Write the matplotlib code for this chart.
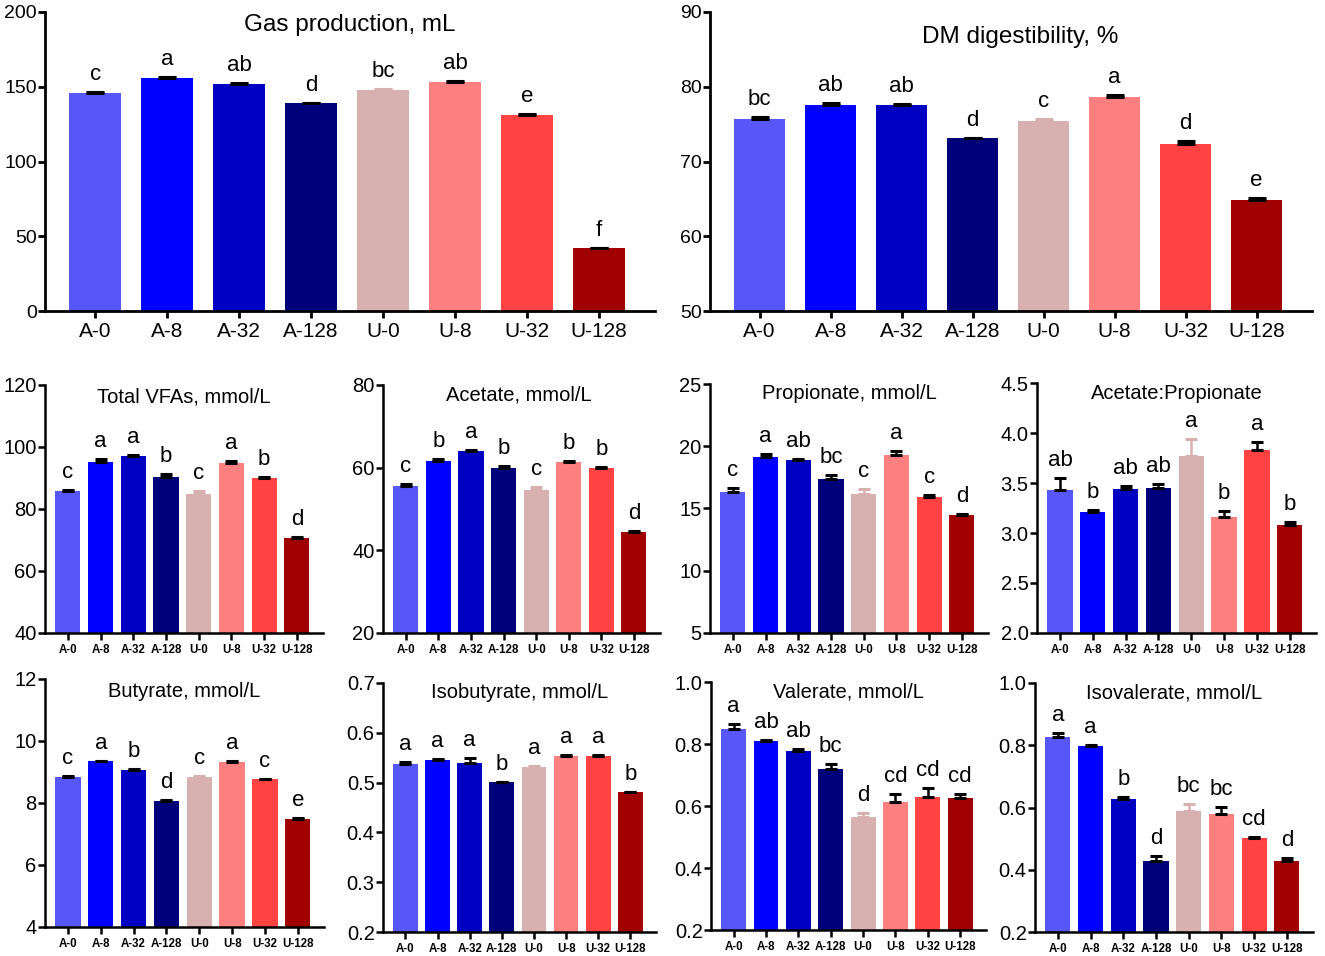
import matplotlib
matplotlib.use("Agg")
import matplotlib.pyplot as plt
import numpy as np

plt.rcParams['font.family'] = ['Liberation Sans', 'DejaVu Sans']

categories = ["A-0", "A-8", "A-32", "A-128", "U-0", "U-8", "U-32", "U-128"]
colors = ["#5757F7", "#0000FF", "#0000C2", "#00007A", "#D9B0B0", "#FF8080", "#FF4242", "#A00000"]

gas = [146, 156, 152, 139, 148, 153, 131, 42]
gas_err = [0.8, 0.7, 0.5, 0.4, 0.3, 0.6, 0.5, 0.4]
gas_let = ["c", "a", "ab", "d", "bc", "ab", "e", "f"]

dm = [75.7, 77.5, 77.6, 73.1, 75.4, 78.6, 72.3, 64.9]
dm_err = [0.2, 0.3, 0.15, 0.1, 0.3, 0.3, 0.4, 0.2]
dm_let = ["bc", "ab", "ab", "d", "c", "a", "d", "e"]

tvfa = [85.8, 95.3, 97.1, 90.4, 84.8, 95.0, 90.0, 70.6]
tvfa_err = [0.4, 0.7, 0.2, 0.8, 1.0, 0.5, 0.2, 0.3]
tvfa_let = ["c", "a", "a", "b", "c", "a", "b", "d"]

acet = [55.5, 61.6, 64.0, 59.8, 54.6, 61.4, 59.9, 44.4]
acet_err = [0.5, 0.5, 0.2, 0.7, 0.8, 0.3, 0.3, 0.2]
acet_let = ["c", "b", "a", "b", "c", "b", "b", "d"]

prop = [16.3, 19.1, 18.9, 17.4, 16.2, 19.3, 15.9, 14.5]
prop_err = [0.35, 0.3, 0.05, 0.3, 0.35, 0.3, 0.2, 0.05]
prop_let = ["c", "a", "ab", "bc", "c", "a", "c", "d"]

ap = [3.43, 3.21, 3.44, 3.45, 3.77, 3.16, 3.83, 3.08]
ap_err = [0.12, 0.02, 0.03, 0.04, 0.17, 0.06, 0.08, 0.03]
ap_let = ["ab", "b", "ab", "ab", "a", "b", "a", "b"]

buty = [8.85, 9.35, 9.07, 8.07, 8.85, 9.33, 8.77, 7.50]
buty_err = [0.03, 0.02, 0.03, 0.02, 0.01, 0.03, 0.02, 0.02]
buty_let = ["c", "a", "b", "d", "c", "a", "c", "e"]

isob = [0.537, 0.546, 0.539, 0.501, 0.532, 0.553, 0.553, 0.481]
isob_err = [0.004, 0.002, 0.010, 0.001, 0.001, 0.002, 0.002, 0.001]
isob_let = ["a", "a", "a", "b", "a", "a", "a", "b"]

vale = [0.848, 0.809, 0.779, 0.720, 0.566, 0.613, 0.629, 0.625]
vale_err = [0.018, 0.005, 0.006, 0.017, 0.010, 0.027, 0.028, 0.013]
vale_let = ["a", "ab", "ab", "bc", "d", "cd", "cd", "cd"]

isov = [0.828, 0.799, 0.627, 0.427, 0.588, 0.578, 0.503, 0.427]
isov_err = [0.010, 0.002, 0.008, 0.018, 0.022, 0.025, 0.001, 0.011]
isov_let = ["a", "a", "b", "d", "bc", "bc", "cd", "d"]

W, H = 1325, 956
fig = plt.figure(figsize=(W / 100, H / 100), dpi=100)


def make_ax(x0, x1, y0, y1):
    return fig.add_axes([x0 / W, 1 - y1 / H, (x1 - x0) / W, (y1 - y0) / H])


def panel(box, vals, errs, lets, title, ylim, yticks, big, tpos, fmt=None):
    ax = make_ax(*box)
    x = np.arange(len(categories))
    if big:
        width, cap, tfs, xfs, yfs, lfs, lw = 0.72, 6.5, 17.5, 15, 14, 16, 2.0
        xlim = (-0.70, 7.78)
    else:
        width, cap, tfs, xfs, yfs, lfs, lw = 0.77, 4.5, 14.5, 8.3, 14.5, 16, 1.8
        xlim = (-0.70, 7.80)
    ax.bar(x, vals, width=width, color=colors, zorder=2)
    for i in range(len(x)):
        ecol = colors[i] if i == 4 else "black"
        ax.errorbar(x[i], vals[i], yerr=[[0], [errs[i]]], fmt="none", ecolor=ecol,
                    elinewidth=1.8, capsize=cap, capthick=2.2, zorder=3)
        ax.annotate(lets[i], (x[i], vals[i] + errs[i]), xytext=(0, 5),
                    textcoords="offset points", ha="center", va="bottom", fontsize=lfs)
    ax.set_xlim(*xlim)
    ax.set_ylim(*ylim)
    ax.set_yticks(yticks)
    if fmt:
        ax.set_yticklabels([fmt % t for t in yticks])
    ax.set_xticks(x)
    if big:
        ax.set_xticklabels(categories, fontsize=xfs)
    else:
        ax.set_xticklabels(categories, fontsize=xfs, fontweight="bold")
    ax.tick_params(axis="y", labelsize=yfs, width=lw, length=5, pad=1)
    ax.tick_params(axis="x", width=lw, length=5, pad=3)
    for s in ["top", "right"]:
        ax.spines[s].set_visible(False)
    for s in ["left", "bottom"]:
        ax.spines[s].set_linewidth(lw)
    ax.text(tpos[0], tpos[1], title, transform=ax.transAxes, ha="center", va="center",
            fontsize=tfs)
    return ax


panel((45, 655, 12, 311), gas, gas_err, gas_let, "Gas production, mL",
      (0, 200), [0, 50, 100, 150, 200], True, (0.50, 0.955))
panel((710, 1312, 12, 311), dm, dm_err, dm_let, "DM digestibility, %",
      (50, 90), [50, 60, 70, 80, 90], True, (0.515, 0.915))

panel((45, 323, 385, 633), tvfa, tvfa_err, tvfa_let, "Total VFAs, mmol/L",
      (40, 120), [40, 60, 80, 100, 120], False, (0.50, 0.95))
panel((383, 660, 385, 633), acet, acet_err, acet_let, "Acetate, mmol/L",
      (20, 80), [20, 40, 60, 80], False, (0.49, 0.96))
panel((710, 988, 384, 633), prop, prop_err, prop_let, "Propionate, mmol/L",
      (5, 25), [5, 10, 15, 20, 25], False, (0.50, 0.96))
panel((1037, 1316, 383, 633), ap, ap_err, ap_let, "Acetate:Propionate",
      (2.0, 4.5), [2.0, 2.5, 3.0, 3.5, 4.0, 4.5], False, (0.50, 0.96), fmt="%.1f")

panel((45, 324, 679, 927), buty, buty_err, buty_let, "Butyrate, mmol/L",
      (4, 12), [4, 6, 8, 10, 12], False, (0.50, 0.95))
panel((383, 656, 683, 932), isob, isob_err, isob_let, "Isobutyrate, mmol/L",
      (0.2, 0.7), [0.2, 0.3, 0.4, 0.5, 0.6, 0.7], False, (0.50, 0.96), fmt="%.1f")
panel((711, 986, 682, 930), vale, vale_err, vale_let, "Valerate, mmol/L",
      (0.2, 1.0), [0.2, 0.4, 0.6, 0.8, 1.0], False, (0.50, 0.96), fmt="%.1f")
panel((1035, 1313, 683, 932), isov, isov_err, isov_let, "Isovalerate, mmol/L",
      (0.2, 1.0), [0.2, 0.4, 0.6, 0.8, 1.0], False, (0.50, 0.96), fmt="%.1f")

fig.savefig("out.png", dpi=100)
